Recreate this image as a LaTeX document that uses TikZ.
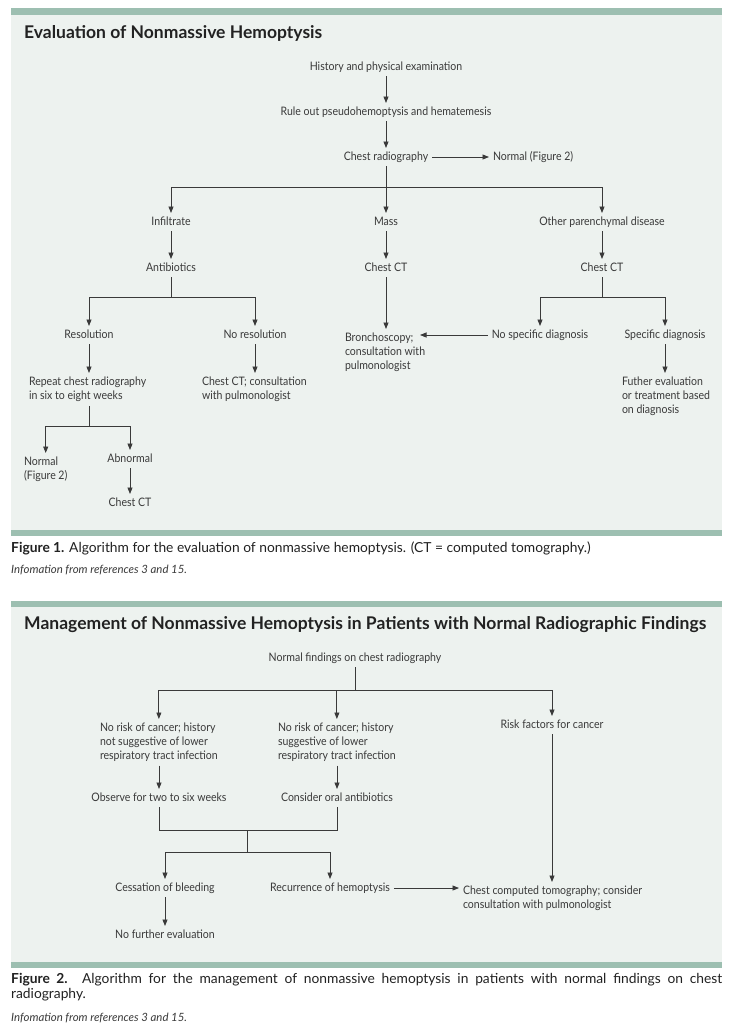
\documentclass[tikz,border=0pt]{standalone}
\usepackage{fontspec}
\setmainfont{Lato}
\newfontfamily\labfont{Lato}[FakeStretch=0.9]
\usetikzlibrary{arrows.meta}
\definecolor{bar}{HTML}{9DBFB1}
\definecolor{panel}{HTML}{EDF2EF}
\definecolor{ink}{HTML}{3A3A3A}
\definecolor{dark}{HTML}{222222}
\begin{document}
\begin{tikzpicture}[x=1pt,y=-1pt,
  labbase/.style={font=\labfont\fontsize{11.7}{14}\selectfont, text=ink, inner sep=0pt, outer sep=4pt},
  lab/.style={labbase, text height=8.5, text depth=1.5},
  mlab/.style={labbase, align=left, anchor=north west, yshift=-2pt},
  ln/.style={draw=ink, line width=0.8pt},
  arr/.style={ln, -{Triangle[length=6.5pt,width=5pt]}},
  title/.style={font=\bfseries\fontsize{17.5}{20}\selectfont, text=dark, anchor=west, inner sep=0pt},
  capt/.style={font=\fontsize{13.8}{15}\selectfont, text=dark, inner sep=0pt},
  info/.style={font=\itshape\fontsize{11.4}{14}\selectfont, text=ink, anchor=west, inner sep=0pt}
]
\useasboundingbox (0,0) rectangle (734,1028);
\fill[white] (0,0) rectangle (734,1028);
% panel 1
\fill[panel] (11,15) rectangle (722,530);
\fill[bar] (11,8) rectangle (722,15);
\fill[bar] (11,530) rectangle (722,536);
% panel 2
\fill[panel] (11,607) rectangle (722,962);
\fill[bar] (11,601) rectangle (722,607);
\fill[bar] (11,962) rectangle (722,968);

\node[title] (t1) at (24,33) {Evaluation of Nonmassive Hemoptysis};
\node[title] (t2) at (24,625) {Management of Nonmassive Hemoptysis in Patients with Normal Radiographic Findings};

% ---------- Figure 1 ----------
\node[lab] (hist) at (386,67) {History and physical examination};
\node[lab] (rule) at (386,112) {Rule out pseudohemoptysis and hematemesis};
\node[lab] (crad) at (386,157) {Chest radiography};
\node[lab, anchor=west] (norm1) at (489,157) {Normal (Figure 2)};
\node[lab] (infl) at (171,222) {Infiltrate};
\node[lab] (mass) at (386,222) {Mass};
\node[lab] (oth) at (602,222) {Other parenchymal disease};
\node[lab] (anti) at (171,268) {Antibiotics};
\node[lab] (ctm) at (386,268) {Chest CT};
\node[lab] (cto) at (602,268) {Chest CT};
\node[lab] (res) at (89,335) {Resolution};
\node[lab] (nores) at (255,335) {No resolution};
\node[mlab] (bron) at (341,327) {Bronchoscopy;\\consultation with\\pulmonologist};
\node[lab] (nsd) at (540,335) {No specific diagnosis};
\node[lab] (sd) at (665,335) {Specific diagnosis};
\node[mlab] (rep) at (25,371) {Repeat chest radiography\\in six to eight weeks};
\node[mlab] (ctc) at (198,371) {Chest CT; consultation\\with pulmonologist};
\node[mlab] (fur) at (618,371) {Futher evaluation\\or treatment based\\on diagnosis};
\node[mlab] (norm2) at (20,451) {Normal\\(Figure 2)};
\node[lab] (abn) at (130,459) {Abnormal};
\node[lab] (ct3) at (130,503) {Chest CT};

\coordinate (j1) at (386,187);
\coordinate (j2) at (171,297);
\coordinate (j3) at (602,297);
\coordinate (j4) at (89,426);
\coordinate (brontip) at (420,335);

\draw[arr] (hist) -- (rule);
\draw[arr] (rule) -- (crad);
\draw[arr] (crad.east) -- (norm1.west);
\draw[ln] (crad.south) -- (j1);
\draw[arr] (j1) -| (infl.north);
\draw[arr] (j1) -- (mass.north);
\draw[arr] (j1) -| (oth.north);
\draw[arr] (infl) -- (anti);
\draw[arr] (mass) -- (ctm);
\draw[arr] (oth) -- (cto);
\draw[ln] (anti.south) -- (j2);
\draw[arr] (j2) -| (res.north);
\draw[arr] (j2) -| (nores.north);
\draw[arr] (ctm.south) -- (ctm.south |- bron.north);
\draw[ln] (cto.south) -- (j3);
\draw[arr] (j3) -| (nsd.north);
\draw[arr] (j3) -| (sd.north);
\draw[arr] (nsd.west) -- (brontip);
\draw[arr] (res.south) -- (res.south |- rep.north);
\draw[arr] (nores.south) -- (nores.south |- ctc.north);
\draw[arr] (sd.south) -- (sd.south |- fur.north);
\draw[ln] (rep.south -| j4) -- (j4);
\draw[arr] (j4) -| (norm2.north);
\draw[arr] (j4) -| (abn.north);
\draw[arr] (abn) -- (ct3);

\node[capt, anchor=west] (cap1) at (11,548) {\textbf{Figure 1.} Algorithm for the evaluation of nonmassive hemoptysis. (CT = computed tomography.)};
\node[info] (inf1) at (11,570) {Infomation from references 3 and 15.};

% ---------- Figure 2 ----------
\node[lab] (nf) at (355,658) {Normal findings on chest radiography};
\node[mlab] (n1) at (96,717) {No risk of cancer; history\\not suggestive of lower\\respiratory tract infection};
\node[mlab] (n2) at (274,717) {No risk of cancer; history\\suggestive of lower\\respiratory tract infection};
\node[lab] (rf) at (552,725) {Risk factors for cancer};
\node[lab] (obs) at (159,798) {Observe for two to six weeks};
\node[lab] (coa) at (337,798) {Consider oral antibiotics};
\node[lab] (ces) at (165,888) {Cessation of bleeding};
\node[lab] (rec) at (330,888) {Recurrence of hemoptysis};
\node[mlab] (cct) at (459,880) {Chest computed tomography; consider\\consultation with pulmonologist};
\node[lab] (nfe) at (165,935) {No further evaluation};

\coordinate (j5) at (355,690);
\coordinate (jm) at (247,830);
\coordinate (jn) at (247,852);

\draw[ln] (nf.south) -- (j5);
\draw[arr] (j5) -| (n1.north);
\draw[arr] (j5) -| (n2.north);
\draw[arr] (j5) -| (rf.north);
\draw[arr] (n1.south -| obs) -- (obs.north);
\draw[arr] (n2.south -| coa) -- (coa.north);
\draw[ln] (obs.south) |- (jm);
\draw[ln] (coa.south) |- (jm);
\draw[ln] (jm) -- (jn);
\draw[arr] (jn) -| (ces.north);
\draw[arr] (jn) -| (rec.north);
\draw[arr] (rf.south) -- (rf.south |- cct.north);
\draw[arr] (rec.east) -- (rec.east -| cct.west);
\draw[arr] (ces) -- (nfe);

\node[capt, anchor=north west, text width=711pt, align=justify] (cap2) at (11,973) {\textbf{Figure 2.} Algorithm for the management of nonmassive hemoptysis in patients with normal findings on chest \mbox{radiography.}};
\node[info] (inf2) at (11,1018) {Infomation from references 3 and 15.};
\end{tikzpicture}
\end{document}
